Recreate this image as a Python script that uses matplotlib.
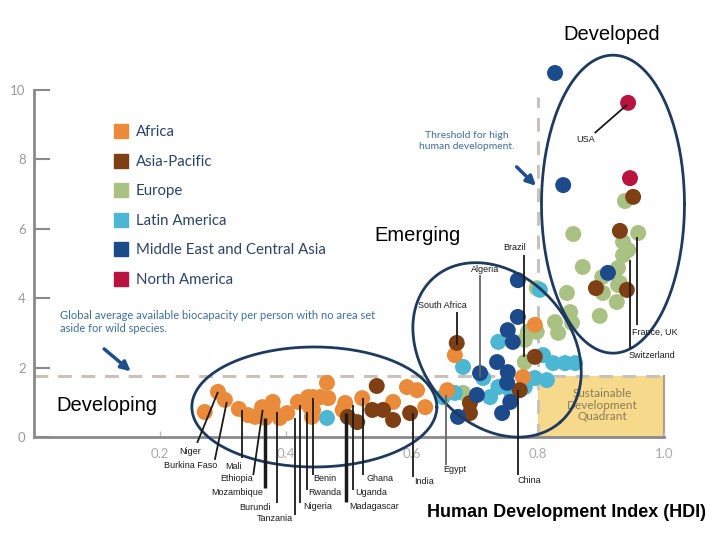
import numpy as np
import matplotlib
matplotlib.use("Agg")
import matplotlib.pyplot as plt
from matplotlib.lines import Line2D
from matplotlib.patches import Rectangle

# ---------------- data (HDI, ecological footprint gha/person) ----------------
africa_hdi = [0.271, 0.292, 0.303, 0.325, 0.340, 0.351, 0.362, 0.367, 0.379, 0.379, 0.390, 0.402,
              0.419, 0.435, 0.438, 0.441, 0.443, 0.443, 0.454, 0.465, 0.467, 0.490, 0.494, 0.521,
              0.570, 0.592, 0.608, 0.621, 0.656, 0.668, 0.795, 0.776]
africa_fp = [0.72, 1.30, 1.07, 0.81, 0.63, 0.58, 0.86, 0.55, 1.01, 0.78, 0.55, 0.69,
             1.01, 1.15, 0.86, 0.58, 1.15, 0.78, 1.15, 1.56, 1.12, 0.78, 0.98, 1.12,
             1.01, 1.44, 1.35, 0.86, 1.35, 2.36, 3.23, 1.73]

asia_hdi = [0.498, 0.513, 0.544, 0.537, 0.554, 0.570, 0.597, 0.671, 0.692, 0.692, 0.771, 0.795,
            0.892, 0.941, 0.930, 0.951]
asia_fp = [0.58, 0.43, 1.47, 0.78, 0.78, 0.49, 0.69, 2.71, 0.98, 0.69, 1.35, 2.31,
           4.29, 4.24, 5.94, 6.92]

europe_hdi = [0.681, 0.779, 0.784, 0.779, 0.798, 0.798, 0.827, 0.832, 0.851, 0.854, 0.846, 0.856,
              0.871, 0.898, 0.903, 0.925, 0.927, 0.927, 0.935, 0.943, 0.935, 0.959, 0.938, 0.930,
              0.779, 0.902]
europe_fp = [1.27, 2.16, 3.03, 2.80, 3.03, 4.29, 3.31, 3.00, 3.60, 3.29, 4.15, 5.85,
             4.90, 3.49, 4.15, 3.89, 4.38, 4.87, 5.24, 5.39, 5.62, 5.88, 6.80, 4.44,
             1.56, 4.61]

latam_hdi = [0.465, 0.649, 0.668, 0.681, 0.713, 0.724, 0.737, 0.737, 0.779, 0.803, 0.808, 0.814,
             0.795, 0.824, 0.843, 0.859, 0.757]
latam_fp = [0.55, 1.15, 1.27, 2.02, 1.70, 1.15, 1.44, 2.74, 1.44, 4.24, 2.36, 1.64,
            1.70, 2.13, 2.13, 2.13, 1.30]

mideast_hdi = [0.673, 0.703, 0.708, 0.735, 0.751, 0.752, 0.756, 0.743, 0.752, 0.760, 0.768, 0.768,
               0.827, 0.840, 0.911]
mideast_fp = [0.58, 1.21, 1.84, 2.16, 1.56, 1.87, 1.01, 0.69, 3.08, 2.74, 3.46, 4.52,
              10.49, 7.26, 4.73]

namerica_hdi = [0.943, 0.946]
namerica_fp = [9.63, 7.46]

region_names = ["Africa", "Asia-Pacific", "Europe", "Latin America",
                "Middle East and Central Asia", "North America"]
region_colors = ["#E98B3A", "#7E3F14", "#A9C283", "#4DB6D3", "#1C4A8A", "#B8143F"]

biocapacity = 1.76
hdi_threshold = 0.8
x_ticks = [0.2, 0.4, 0.6, 0.8, 1.0]
x_tick_labels = ["0.2", "0.4", "0.6", "0.8", "1.0"]
y_ticks = [0, 2, 4, 6, 8, 10]

# country labels: (name, point x, point y, line end x, line end y, text x, text y)
labels = [
    ("Niger", 0.292, 1.30, 0.259, -0.17, 0.248, -0.43),
    ("Burkina Faso", 0.306, 1.01, 0.287, -0.66, 0.248, -0.81),
    ("Mali", 0.330, 0.78, 0.330, -0.61, 0.316, -0.84),
    ("Ethiopia", 0.363, 0.78, 0.348, -1.10, 0.322, -1.21),
    ("Mozambique", 0.367, 0.55, 0.367, -1.47, 0.322, -1.59),
    ("Burundi", 0.386, 0.72, 0.386, -1.90, 0.351, -2.02),
    ("Tanzania", 0.414, 0.55, 0.414, -2.25, 0.383, -2.36),
    ("Nigeria", 0.422, 0.92, 0.422, -1.90, 0.451, -1.99),
    ("Rwanda", 0.433, 0.72, 0.433, -1.53, 0.462, -1.59),
    ("Benin", 0.443, 1.12, 0.443, -1.10, 0.462, -1.21),
    ("Madagascar", 0.495, 0.69, 0.495, -1.87, 0.540, -1.99),
    ("Uganda", 0.506, 0.92, 0.506, -1.53, 0.535, -1.59),
    ("Ghana", 0.522, 1.12, 0.522, -1.10, 0.549, -1.21),
    ("India", 0.602, 0.69, 0.602, -1.15, 0.619, -1.27),
    ("Egypt", 0.654, 1.21, 0.654, -0.81, 0.668, -0.95),
    ("China", 0.768, 1.35, 0.768, -1.10, 0.786, -1.24),
    ("Brazil", 0.778, 2.31, 0.778, 5.24, 0.763, 5.45),
    ("Algeria", 0.708, 1.73, 0.708, 4.67, 0.716, 4.84),
    ("South Africa", 0.671, 2.65, 0.671, 3.60, 0.648, 3.78),
    ("USA", 0.941, 9.57, 0.890, 8.76, 0.875, 8.56),
    ("France, UK", 0.957, 5.76, 0.957, 3.23, 0.986, 3.03),
    ("Switzerland", 0.946, 5.10, 0.946, 2.56, 0.981, 2.36),
]
thick_lines = {"Mozambique", "Madagascar"}
gray_lines = {"Algeria", "Egypt"}

# ---------------- figure ----------------
fig = plt.figure(figsize=(7.2, 5.4), dpi=100)
ax = fig.add_axes([0, 0, 1, 1])
ax.set_xlim(-34 / 630, (720 - 34) / 630)
ax.set_ylim((437 - 540) / 34.7, 437 / 34.7)
ax.patch.set_alpha(0)

for s in ["top", "right"]:
    ax.spines[s].set_visible(False)
for s in ["left", "bottom"]:
    ax.spines[s].set_position(("data", 0))
    ax.spines[s].set_color("#8a8a8a")
    ax.spines[s].set_linewidth(2)
ax.spines["left"].set_bounds(0, 10)
ax.spines["bottom"].set_bounds(0, 1.0)

ax.set_yticks(y_ticks)
ax.set_yticklabels([str(v) for v in y_ticks])
ax.set_xticks(x_ticks)
ax.set_xticklabels(x_tick_labels)
ax.tick_params(axis="y", direction="in", length=11.5, width=1.5, color="#8a8a8a",
               labelcolor="#9a9a9a", labelsize=9.5, pad=6)
ax.tick_params(axis="x", direction="in", length=4, width=1, color="#bbbbbb",
               labelcolor="#aaaaaa", labelsize=9.5, pad=8)
for t in ax.get_xticklabels() + ax.get_yticklabels():
    t.set_family(["Lato", "DejaVu Sans"])

# sustainable quadrant
ax.add_patch(Rectangle((hdi_threshold, 0), 1.0 - hdi_threshold, biocapacity,
                       facecolor="#F7D98C", edgecolor="none", zorder=1))
ax.plot([1.0, 1.0], [0, biocapacity], color="#a8a08a", lw=1.5, zorder=1)
ax.text(0.902, 0.92, "Sustainable\nDevelopment\nQuadrant", ha="center", va="center",
        fontsize=8.5, color="#8B7B5A", family=["Lato", "DejaVu Sans"], linespacing=1.1, zorder=2)

# dashed reference lines
ax.plot([0, 1.0], [biocapacity, biocapacity], color="#C8C2B8", lw=2.2,
        dashes=(4.5, 3.2), zorder=1.5)
ax.plot([hdi_threshold, hdi_threshold], [0, 9.8], color="#C8C2B8", lw=2.2,
        dashes=(4.5, 3.2), zorder=1.5)

# points
series = [
    (europe_hdi, europe_fp, region_colors[2]),
    (latam_hdi, latam_fp, region_colors[3]),
    (africa_hdi, africa_fp, region_colors[0]),
    (asia_hdi, asia_fp, region_colors[1]),
    (mideast_hdi, mideast_fp, region_colors[4]),
    (namerica_hdi, namerica_fp, region_colors[5]),
]
for xs, ys, c in series:
    ax.scatter(xs, ys, s=132, color=c, edgecolors="none", zorder=3)


# ellipses (semi-axes given in pixel-like units, converted to data)
def draw_ellipse(cx, cy, a_px, b_px, angle_deg):
    t = np.linspace(0, 2 * np.pi, 300)
    phi = np.deg2rad(angle_deg)
    u = a_px * np.cos(t)
    v = b_px * np.sin(t)
    X = u * np.cos(phi) - v * np.sin(phi)
    Y = u * np.sin(phi) + v * np.cos(phi)
    ax.plot(cx + X / 630, cy + Y / 34.7, color="#1E3A5F", lw=2, zorder=5)


draw_ellipse(0.445, 0.865, 122.5, 60, 0)
draw_ellipse(0.735, 2.51, 96, 74, -49)
draw_ellipse(0.919, 6.71, 71.5, 149, 0)

# country labels
for name, px, py, lx, ly, tx, ty in labels:
    lw = 2.5 if name in thick_lines else 1.3
    col = "#666666" if name in gray_lines else "#1a1a1a"
    ax.plot([px, lx], [py, ly], color=col, lw=lw, zorder=6, solid_capstyle="butt")
    ax.text(tx, ty, name, ha="center", va="center", fontsize=6.5, color="#1a1a1a",
            family=["Liberation Sans", "DejaVu Sans"], zorder=7)

# group titles
for txt, x, y in [("Developed", 0.917, 11.6), ("Emerging", 0.608, 5.8), ("Developing", 0.116, 0.92)]:
    ax.text(x, y, txt, ha="center", va="center", fontsize=14.5, color="black",
            family=["Liberation Sans", "DejaVu Sans"])

# annotations
ax.text(0.041, 3.31, "Global average available biocapacity per person with no area set\naside for wild species.",
        ha="left", va="center", fontsize=8, color="#3E6E9E", family=["Lato", "DejaVu Sans"],
        linespacing=1.25)
ax.annotate("", xy=(0.157, 1.84), xytext=(0.108, 2.59),
            arrowprops=dict(arrowstyle="-|>", color="#1F4E8C", lw=2.5, mutation_scale=14))
ax.text(0.687, 8.53, "Threshold for high\nhuman development.", ha="center", va="center",
        fontsize=7.5, color="#3E6E9E", family=["Lato", "DejaVu Sans"], linespacing=1.2)
ax.annotate("", xy=(0.800, 7.18), xytext=(0.763, 7.84),
            arrowprops=dict(arrowstyle="-|>", color="#1F4E8C", lw=2.5, mutation_scale=14))

# axis title
ax.text(0.846, -2.17, "Human Development Index (HDI)", ha="center", va="center",
        fontsize=13, fontweight="bold", color="black", family=["Liberation Sans", "DejaVu Sans"])

# legend
handles = [Line2D([], [], marker="s", linestyle="", markersize=10.5, color=c) for c in region_colors]
leg = ax.legend(handles, region_names, loc="upper left", bbox_to_anchor=(106 / 720, 1 - 118 / 540),
                bbox_transform=fig.transFigure, frameon=False, borderpad=0, handletextpad=0.5,
                labelspacing=1.03, handlelength=1.0,
                prop={"family": ["Lato", "DejaVu Sans"], "size": 10.8})
for t in leg.get_texts():
    t.set_color("#2d4466")

fig.savefig("out.png", dpi=100)
